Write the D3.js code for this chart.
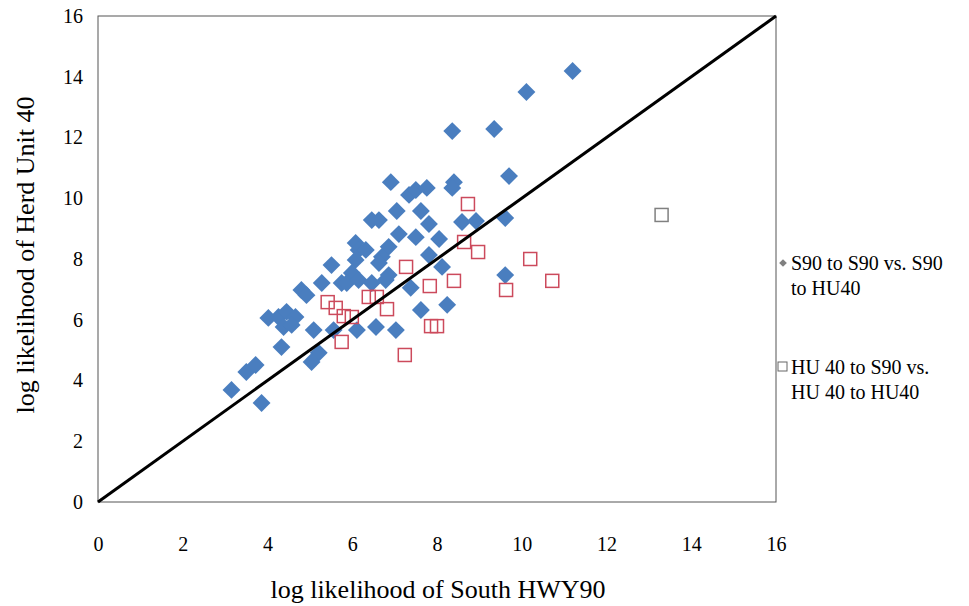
<!DOCTYPE html>
<html>
<head>
<meta charset="utf-8">
<script src="https://cdn.jsdelivr.net/npm/d3@7"></script>
<style>
  html, body { margin: 0; padding: 0; background: #fff; }
  svg { display: block; }
  text { font-family: "Liberation Serif", "DejaVu Serif", serif; fill: #000; }
</style>
</head>
<body>
<svg width="969" height="606"></svg>
<script>
// S90 to S90 vs. S90 to HU40 (blue diamonds): [South HWY90, Herd Unit 40]
var s90Points = [
  [3.15, 3.69], [3.50, 4.28], [3.72, 4.51], [3.86, 3.26], [4.33, 5.10],
  [4.02, 6.06], [4.26, 6.09], [4.45, 6.26], [4.66, 6.09], [4.38, 5.76],
  [4.57, 5.83], [4.80, 6.98], [4.92, 6.81], [5.28, 7.21], [5.51, 7.80],
  [5.09, 5.66], [5.56, 5.66], [5.21, 4.91], [5.04, 4.61], [5.75, 7.21],
  [6.08, 8.53], [6.15, 8.30], [6.32, 8.30], [6.46, 9.28], [6.63, 9.28],
  [6.91, 10.53], [7.34, 10.11], [7.50, 10.27], [7.76, 10.34], [8.40, 10.53],
  [8.36, 10.34], [7.05, 9.58], [7.62, 9.58], [7.81, 9.15], [7.10, 8.82],
  [7.50, 8.72], [8.05, 8.66], [8.59, 9.22], [8.92, 9.25], [9.61, 9.35],
  [6.86, 8.40], [6.70, 8.07], [7.81, 8.13], [6.08, 7.97], [6.63, 7.87],
  [6.86, 7.47], [8.12, 7.74], [5.99, 7.54], [5.87, 7.21], [6.15, 7.31],
  [6.46, 7.21], [6.79, 7.31], [7.38, 7.05], [7.62, 6.32], [8.24, 6.49],
  [6.56, 5.76], [7.03, 5.66], [6.11, 5.66], [9.61, 7.47], [9.70, 10.73],
  [8.36, 12.21], [9.35, 12.28], [10.11, 13.50], [11.20, 14.19]
];

// HU 40 to S90 vs. HU 40 to HU40 (open squares)
var hu40Points = [
  [5.42, 6.58], [5.61, 6.39], [5.80, 6.12], [5.99, 6.09], [5.75, 5.27],
  [6.39, 6.75], [6.58, 6.75], [6.82, 6.35], [7.27, 7.74], [7.83, 7.11],
  [8.40, 7.28], [7.86, 5.79], [8.00, 5.79], [7.24, 4.84], [8.73, 9.81],
  [8.64, 8.56], [8.97, 8.23], [10.20, 8.00], [10.72, 7.28], [9.63, 6.98]
];
var hu40Outlier = [[13.30, 9.45]];

var lineEnds = [[0, 0], [16, 16]];
var ticks = [0, 2, 4, 6, 8, 10, 12, 14, 16];
var legendLines = [
  ["S90 to S90 vs. S90", "to HU40"],
  ["HU 40 to S90 vs.", "HU 40 to HU40"]
];

var svg = d3.select("svg"),
    plot = {left: 98, top: 16, right: 776, bottom: 502};

var x = d3.scaleLinear().domain([0, 16]).range([plot.left, plot.right]),
    y = d3.scaleLinear().domain([0, 16]).range([plot.bottom, plot.top]);

svg.append("rect")
    .attr("x", plot.left).attr("y", plot.top)
    .attr("width", plot.right - plot.left)
    .attr("height", plot.bottom - plot.top)
    .attr("fill", "none")
    .attr("stroke", "#555")
    .attr("stroke-width", 1);

// axes: labels only, no lines or tick marks
var xAxis = svg.append("g")
    .attr("transform", "translate(0," + plot.bottom + ")")
    .call(d3.axisBottom(x).tickValues(ticks).tickSize(0).tickPadding(35));
var yAxis = svg.append("g")
    .attr("transform", "translate(" + plot.left + ",0)")
    .call(d3.axisLeft(y).tickValues(ticks).tickSize(0).tickPadding(15));
[xAxis, yAxis].forEach(function(a) {
  a.select(".domain").remove();
  a.selectAll("text")
      .style("font-family", '"Liberation Serif", serif')
      .style("font-size", "20px")
      .attr("fill", "#000");
});

svg.append("text")
    .attr("x", (plot.left + plot.right) / 2 + 1)
    .attr("y", 598)
    .attr("text-anchor", "middle")
    .style("font-size", "26px")
    .text("log likelihood of South HWY90");

svg.append("text")
    .attr("transform", "translate(34," + ((plot.top + plot.bottom) / 2 - 4) + ") rotate(-90)")
    .attr("text-anchor", "middle")
    .style("font-size", "26px")
    .text("log likelihood of Herd Unit 40");

// marks
var diamond = d3.symbol().type(d3.symbolSquare).size(160);

svg.append("g").selectAll("path")
    .data(s90Points)
  .enter().append("path")
    .attr("d", diamond)
    .attr("transform", function(d) { return "translate(" + x(d[0]) + "," + y(d[1]) + ") rotate(45)"; })
    .attr("fill", "#4a7ebf");

svg.append("g").selectAll("rect")
    .data(hu40Points)
  .enter().append("rect")
    .attr("x", function(d) { return x(d[0]) - 6.5; })
    .attr("y", function(d) { return y(d[1]) - 6.5; })
    .attr("width", 13).attr("height", 13)
    .attr("fill", "none")
    .attr("stroke", "#cc4a5c")
    .attr("stroke-width", 1.5);

svg.append("g").selectAll("rect")
    .data(hu40Outlier)
  .enter().append("rect")
    .attr("x", function(d) { return x(d[0]) - 6.5; })
    .attr("y", function(d) { return y(d[1]) - 6.5; })
    .attr("width", 13).attr("height", 13)
    .attr("fill", "none")
    .attr("stroke", "#808080")
    .attr("stroke-width", 1.5);

svg.append("path")
    .datum(lineEnds)
    .attr("d", d3.line().x(function(d) { return x(d[0]); }).y(function(d) { return y(d[1]); }))
    .attr("stroke", "#000")
    .attr("stroke-width", 3)
    .attr("fill", "none");

// legend
var legend = svg.append("g");
var legendY = [264, 368];
legend.append("path")
    .attr("d", d3.symbol().type(d3.symbolSquare).size(30))
    .attr("transform", "translate(783," + (legendY[0] - 1) + ") rotate(45)")
    .attr("fill", "#808080");
legend.append("rect")
    .attr("x", 778).attr("y", legendY[1] - 6)
    .attr("width", 9).attr("height", 9)
    .attr("fill", "none").attr("stroke", "#666").attr("stroke-width", 1);
legendLines.forEach(function(lines, i) {
  var t = legend.append("text")
      .attr("x", 791).attr("y", legendY[i] + 6)
      .style("font-size", "20px");
  lines.forEach(function(l, j) {
    t.append("tspan").attr("x", 791).attr("dy", j ? 25 : 0).text(l);
  });
});
</script>
</body>
</html>
